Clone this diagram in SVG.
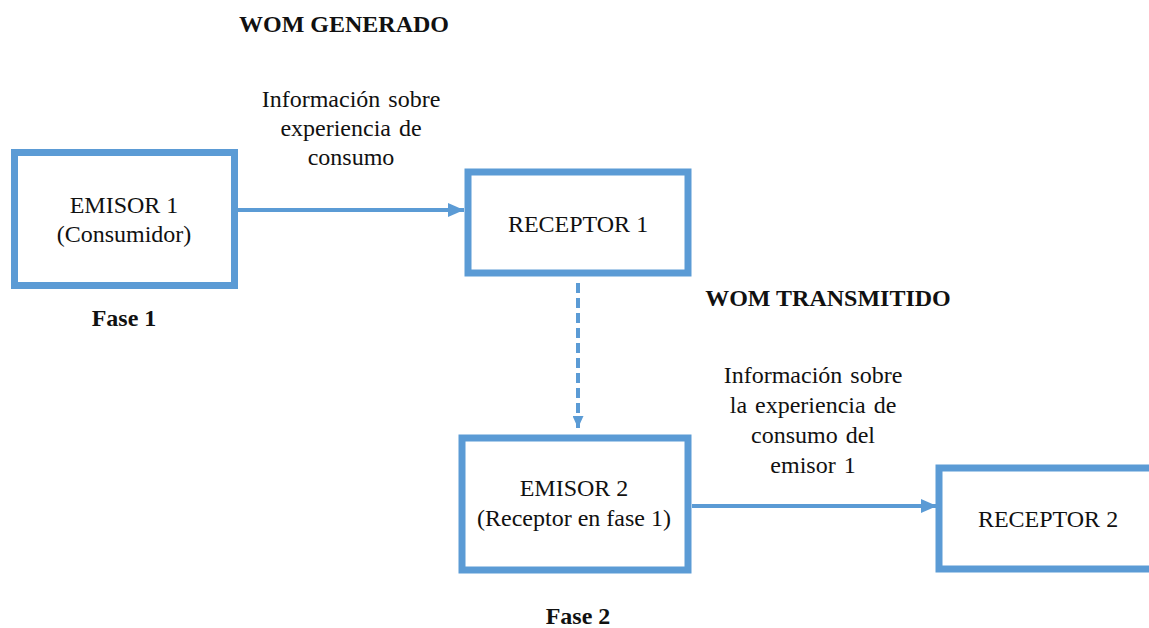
<svg xmlns="http://www.w3.org/2000/svg" width="1149" height="628" viewBox="0 0 1149 628">
  <style>
    .box { fill: #ffffff; stroke: #5b9bd5; stroke-width: 7; }
    .link { fill: none; stroke: #5b9bd5; stroke-width: 4; }
    .dash { stroke-dasharray: 10 5; }
    .t { font-family: 'Liberation Serif', Tinos, 'Times New Roman', 'DejaVu Serif', serif; font-size: 24px; fill: #111111; text-anchor: middle; }
    .b { font-weight: bold; }
    .w { word-spacing: 2px; }
  </style>
  <defs>
    <marker id="head" viewBox="0 0 16 14" refX="16" refY="7" markerWidth="16" markerHeight="14" markerUnits="userSpaceOnUse" orient="auto">
      <path d="M0,0 L16,7 L0,14 Z" fill="#5b9bd5"/>
    </marker>
    <marker id="headSmall" viewBox="0 0 12 11" refX="12" refY="5.5" markerWidth="12" markerHeight="11" markerUnits="userSpaceOnUse" orient="auto">
      <path d="M0,0 L12,5.5 L0,11 Z" fill="#5b9bd5"/>
    </marker>
  </defs>

  <rect width="1149" height="628" fill="#ffffff"/>

  <!-- section headings -->
  <text class="t b" x="344" y="32">WOM GENERADO</text>
  <text class="t b" x="828" y="306">WOM TRANSMITIDO</text>
  <text class="t b" x="124" y="326">Fase 1</text>
  <text class="t b" x="578" y="624">Fase 2</text>

  <!-- connectors -->
  <g id="connectors">
    <line class="link" x1="238" y1="210" x2="464" y2="210" marker-end="url(#head)"/>
    <line class="link dash" x1="578" y1="283" x2="578" y2="428" marker-end="url(#headSmall)"/>
    <line class="link" x1="692" y1="506" x2="937" y2="506" marker-end="url(#head)"/>
    <text class="t w" x="351" y="107">Información sobre</text>
    <text class="t w" x="351" y="136">experiencia de</text>
    <text class="t w" x="351" y="165">consumo</text>
    <text class="t w" x="813" y="383">Información sobre</text>
    <text class="t w" x="813" y="413">la experiencia de</text>
    <text class="t w" x="813" y="443">consumo del</text>
    <text class="t w" x="813" y="473">emisor 1</text>
  </g>

  <!-- nodes -->
  <g id="emisor1">
    <rect class="box" x="14.5" y="152.5" width="220" height="133"/>
    <text class="t" x="124" y="213">EMISOR 1</text>
    <text class="t" x="124" y="242">(Consumidor)</text>
  </g>

  <g id="receptor1">
    <rect class="box" x="468" y="172" width="220" height="101"/>
    <text class="t" x="578" y="232">RECEPTOR 1</text>
  </g>

  <g id="emisor2">
    <rect class="box" x="462" y="438" width="226" height="132"/>
    <text class="t" x="574" y="496">EMISOR 2</text>
    <text class="t" x="574" y="526">(Receptor en fase 1)</text>
  </g>

  <g id="receptor2">
    <rect class="box" x="939" y="468" width="240" height="101"/>
    <text class="t" x="1048" y="527">RECEPTOR 2</text>
  </g>
</svg>
